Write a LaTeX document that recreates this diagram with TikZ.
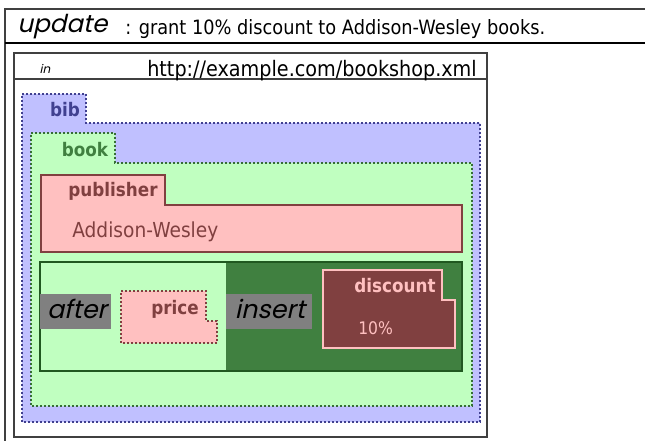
\documentclass[tikz,border=0pt]{standalone}
\usepackage{fontspec}
\setmainfont{DejaVu Sans}[FakeStretch=0.9]
\newfontfamily\geofont{Poppins}[FakeSlant=0.22]

\definecolor{bibfill}{HTML}{C0C0FF}
\definecolor{bibline}{HTML}{404090}
\definecolor{bookfill}{HTML}{C0FFC0}
\definecolor{bookline}{HTML}{408040}
\definecolor{pubfill}{HTML}{FFC0C0}
\definecolor{publine}{HTML}{804040}
\definecolor{seqline}{HTML}{205820}
\definecolor{opfill}{HTML}{808080}

\begin{document}
\begin{tikzpicture}[
    x=0.75pt, y=-0.75pt,
    frame/.style={draw=black!75, line width=0.9pt},
    bibbox/.style={draw=bibline, fill=bibfill, line width=1.5pt, dash pattern=on 1.5pt off 1.5pt},
    bookbox/.style={draw=bookline!85!black, fill=bookfill, line width=1.5pt, dash pattern=on 1.5pt off 1.5pt},
    pubbox/.style={draw=publine, fill=pubfill, line width=1.5pt},
    pricebox/.style={draw=publine, fill=pubfill, line width=1.5pt, dash pattern=on 1.5pt off 1.5pt},
    discbox/.style={draw=pubfill, fill=publine, line width=1.6pt},
    opbox/.style={fill=opfill},
    optext/.style={font=\geofont\fontsize{19}{19}\selectfont, anchor=base, inner sep=0pt},
    tag/.style={font=\bfseries\fontsize{14}{15}\selectfont, anchor=base, inner sep=0pt}
]
\useasboundingbox (0,0) rectangle (645,441);

% Header
\draw[frame] (645,9) -- (5,9) -- (5,441);
\draw[black, line width=1.6pt] (5,43) -- (645,43);
\node[font=\geofont\fontsize{18.5}{19}\selectfont, anchor=base west, inner sep=0pt] (update) at (17,33) {update};
\node[font=\fontsize{14.8}{15}\selectfont, anchor=base west, inner sep=0pt] (goal) at (125,35) {: grant 10\% discount to Addison-Wesley books.};

% Input document
\draw[frame] (14,53) rectangle (487,437);
\draw[frame] (14,79) -- (487,79);
\node[font=\geofont\fontsize{9}{9}\selectfont, anchor=base, inner sep=0pt] (in) at (45,74) {in};
\node[font=\fontsize{16}{16}\selectfont, anchor=base, inner sep=0pt] (url) at (312,77) {http://example.com/bookshop.xml};

% bib
\draw[bibbox] (22,94) -- (86,94) -- (86,123) -- (480,123) -- (480,422) -- (22,422) -- cycle;
\node[tag, text=bibline] (bib) at (65,117) {bib};

% book
\draw[bookbox] (31,133) -- (115,133) -- (115,163) -- (472,163) -- (472,406) -- (31,406) -- cycle;
\node[tag, text=bookline] (book) at (85,157) {book};

% publisher
\draw[pubbox] (41,175) -- (165,175) -- (165,205) -- (462,205) -- (462,252) -- (41,252) -- cycle;
\node[tag, text=publine] (publisher) at (113,197) {publisher};
\node[font=\fontsize{15.5}{16}\selectfont, text=publine, anchor=base west, inner sep=0pt] (aw) at (72,238) {Addison-Wesley};

% Update rule
\fill[bookfill] (40,262) rectangle (226,371);
\fill[bookline] (226,262) rectangle (462,371);
\draw[seqline, line width=1pt] (40,262) rectangle (462,371);

\fill[opbox] (40,294) rectangle (111,329);
\node[optext] (after) at (77,318) {after};

\draw[pricebox] (121,291) -- (206,291) -- (206,321) -- (217,321) -- (217,343) -- (121,343) -- cycle;
\node[tag, text=publine] (price) at (175,314) {price};

\fill[opbox] (226,294) rectangle (312,329);
\node[optext] (insert) at (270,318) {insert};

\draw[discbox] (323,270) -- (442,270) -- (442,300) -- (455,300) -- (455,348) -- (323,348) -- cycle;
\node[tag, text=pubfill] (discount) at (395,292) {discount};
\node[font=\fontsize{13}{13}\selectfont, text=pubfill, anchor=base west, inner sep=0pt] (amount) at (358,334) {10\%};

\end{tikzpicture}
\end{document}
